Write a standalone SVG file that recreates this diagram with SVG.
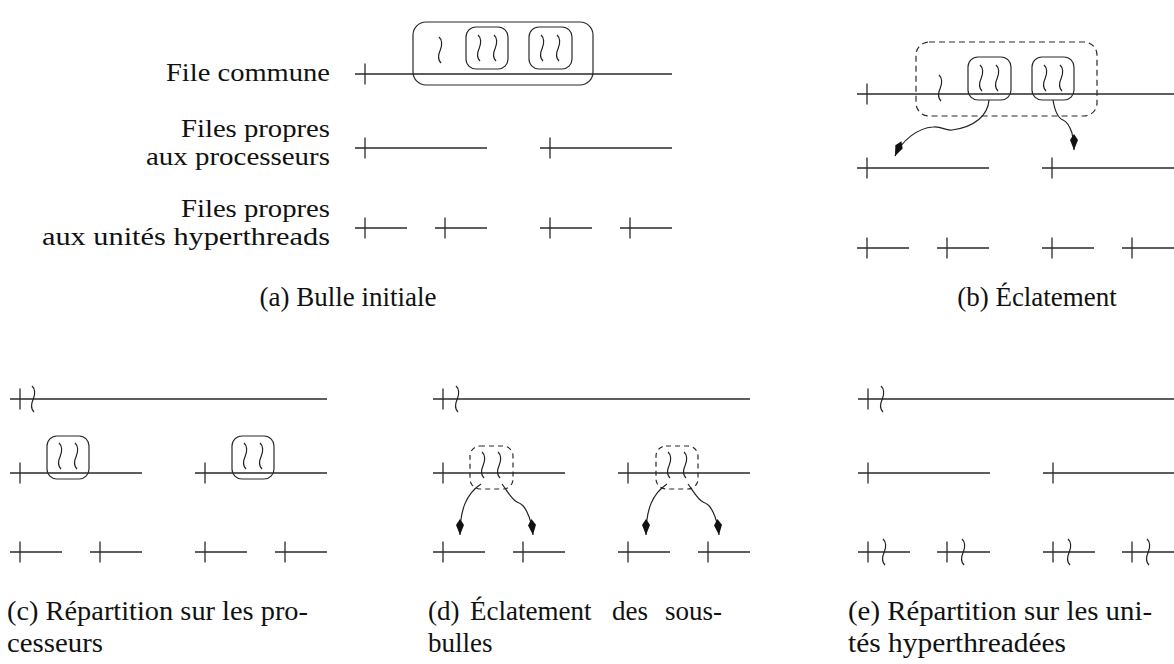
<svg xmlns="http://www.w3.org/2000/svg" xmlns:xlink="http://www.w3.org/1999/xlink" width="1174" height="664" viewBox="0 0 1174 664">
<style>
.q{fill:none;stroke:#2a2a2a;stroke-width:1.3}
.bb{fill:none;stroke:#2a2a2a;stroke-width:1.2}
.dd{fill:none;stroke:#2a2a2a;stroke-width:1.2;stroke-dasharray:6 4}
.th{fill:none;stroke:#222;stroke-width:1.2}
.ar{fill:none;stroke:#222;stroke-width:1.2;marker-end:url(#ah)}
text{font-family:"Liberation Serif","Times New Roman",serif;font-size:27px;fill:#111}
.lb{font-size:25px;text-anchor:end}
.m{text-anchor:middle}
</style>
<defs>
<path id="t" class="th" d="M-1,0 C2,2.5 2.5,8 0.3,13 C-2,18 -2,23 1,26"/>
<marker id="ah" markerUnits="userSpaceOnUse" markerWidth="20" markerHeight="12" viewBox="-17 -6 19 12" refX="0" refY="0" orient="auto">
<path d="M0,0 L-10,-4 L-16,0 L-10,4 z" fill="#111"/>
</marker>
</defs>

<g id="labels">
<text class="lb" x="330" y="81" textLength="164" lengthAdjust="spacingAndGlyphs">File commune</text>
<text class="lb" x="330" y="137" textLength="149" lengthAdjust="spacingAndGlyphs">Files propres</text>
<text class="lb" x="330" y="165" textLength="184" lengthAdjust="spacingAndGlyphs">aux processeurs</text>
<text class="lb" x="330" y="217" textLength="149" lengthAdjust="spacingAndGlyphs">Files propres</text>
<text class="lb" x="330" y="245" textLength="288" lengthAdjust="spacingAndGlyphs">aux unités hyperthreads</text>
</g>

<g id="panel-a">
<g id="a-queues"><path class="q" d="M355,74H672M365,63.5v21M355,148H487M365,137.5v21M540,148H672M550,137.5v21M355,228H407M365,217.5v21M435,228H487M445,217.5v21M540,228H592M550,217.5v21M620,228H672M630,217.5v21"/></g>
<g id="a-bubble"><rect class="bb" x="413" y="22" width="180" height="63" rx="13"/><use xlink:href="#t" x="440" y="37"/></g>
<g id="a-sub1"><rect class="bb" x="466" y="27" width="42" height="42" rx="10"/><use xlink:href="#t" x="479" y="35"/><use xlink:href="#t" x="495" y="35"/></g>
<g id="a-sub2"><rect class="bb" x="529" y="27" width="43" height="42" rx="10"/><use xlink:href="#t" x="542" y="35"/><use xlink:href="#t" x="558" y="35"/></g>
<text class="m" x="348" y="306">(a) Bulle initiale</text>
</g>

<g id="panel-b">
<g id="b-queues"><path class="q" d="M857,94H1174M867,83.5v21M857,168H989M867,157.5v21M1042,168H1174M1052,157.5v21M857,248H909M867,237.5v21M937,248H989M947,237.5v21M1042,248H1094M1052,237.5v21M1122,248H1174M1132,237.5v21"/></g>
<g id="b-bubble"><rect class="dd" x="916" y="42" width="181" height="74" rx="13"/><use xlink:href="#t" x="940" y="75"/></g>
<g id="b-sub1"><rect class="bb" x="968" y="57" width="43" height="43" rx="10"/><use xlink:href="#t" x="981" y="65"/><use xlink:href="#t" x="997" y="65"/></g>
<g id="b-sub2"><rect class="bb" x="1032" y="57" width="42" height="43" rx="10"/><use xlink:href="#t" x="1045" y="65"/><use xlink:href="#t" x="1061" y="65"/></g>
<text class="m" x="1037" y="306">(b) Éclatement</text>
</g>

<g id="panel-c">
<g id="c-queues"><path class="q" d="M10,399H327M20,388.5v21M10,473H142M20,462.5v21M195,473H327M205,462.5v21M10,552H62M20,541.5v21M90,552H142M100,541.5v21M195,552H247M205,541.5v21M275,552H327M285,541.5v21"/></g>
<g id="c-thread"><use xlink:href="#t" x="33" y="386"/></g>
<g id="c-sub1"><rect class="bb" x="47" y="436" width="42" height="43" rx="10"/><use xlink:href="#t" x="60" y="443"/><use xlink:href="#t" x="76" y="443"/></g>
<g id="c-sub2"><rect class="bb" x="232" y="436" width="42" height="43" rx="10"/><use xlink:href="#t" x="245" y="443"/><use xlink:href="#t" x="261" y="443"/></g>
<text x="7" y="620" textLength="301" lengthAdjust="spacingAndGlyphs">(c) Répartition sur les pro-</text>
<text x="7" y="652" textLength="96" lengthAdjust="spacingAndGlyphs">cesseurs</text>
</g>

<g id="panel-d">
<g id="d-queues"><path class="q" d="M433,399H750M443,388.5v21M433,473H565M443,462.5v21M618,473H750M628,462.5v21M433,552H485M443,541.5v21M513,552H565M523,541.5v21M618,552H670M628,541.5v21M698,552H750M708,541.5v21"/></g>
<g id="d-thread"><use xlink:href="#t" x="457" y="386"/></g>
<g id="d-sub1"><rect class="dd" x="470" y="446" width="43" height="43" rx="10" style="stroke-dasharray:5 4"/><use xlink:href="#t" x="483" y="452"/><use xlink:href="#t" x="499" y="452"/></g>
<g id="d-sub2"><rect class="dd" x="656" y="446" width="42" height="43" rx="10" style="stroke-dasharray:5 4"/><use xlink:href="#t" x="669" y="452"/><use xlink:href="#t" x="685" y="452"/></g>
<text x="428" y="620">(d)<tspan x="470">Éclatement</tspan><tspan x="612">des</tspan><tspan x="665">sous-</tspan></text>
<text x="428" y="652">bulles</text>
</g>

<g id="panel-e">
<g id="e-queues"><path class="q" d="M858,399H1174M868,388.5v21M858,473H990M868,462.5v21M1043,473H1174M1053,462.5v21M858,552H910M868,541.5v21M937,552H990M947,541.5v21M1043,552H1095M1053,541.5v21M1122,552H1174M1132,541.5v21"/></g>
<g id="e-thread0"><use xlink:href="#t" x="882" y="386"/></g>
<g id="e-thread1"><use xlink:href="#t" x="884" y="539"/></g>
<g id="e-thread2"><use xlink:href="#t" x="963" y="539"/></g>
<g id="e-thread3"><use xlink:href="#t" x="1069" y="539"/></g>
<g id="e-thread4"><use xlink:href="#t" x="1148" y="539"/></g>
<text x="848" y="620" textLength="304" lengthAdjust="spacingAndGlyphs">(e) Répartition sur les uni-</text>
<text x="848" y="652" textLength="218" lengthAdjust="spacingAndGlyphs">tés hyperthreadées</text>
</g>

<g id="connectors">
<path class="ar" d="M989,100 C988,115 975,127 952,130 C945,131 942,126 933,127 C918,128 902,140 895,156"/>
<path class="ar" d="M1053,100 C1055,112 1058,118 1063,120 C1068,122 1070,127 1072,133 C1073,139 1074,144 1074,150"/>
<path class="ar" d="M481,484 C466,494 460,510 460,535"/>
<path class="ar" d="M502,484 C508,492 512,500 517,502 C522,504 524,506 527,512 C530,518 532,525 533,535"/>
<path class="ar" d="M667,484 C652,494 646,510 646,535"/>
<path class="ar" d="M688,484 C694,492 698,500 703,502 C708,504 710,506 713,512 C716,518 718,525 719,535"/>
</g>
</svg>
